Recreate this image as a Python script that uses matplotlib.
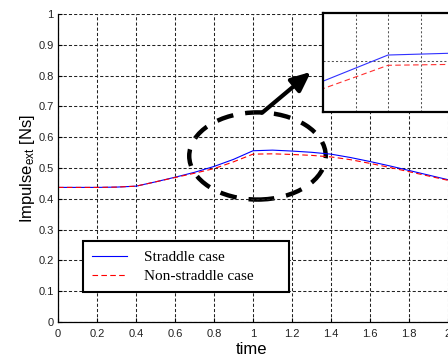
"""
Impulse over time: straddle vs non-straddle case, with zoomed inset
"""
import matplotlib
matplotlib.use("Agg")
import matplotlib.pyplot as plt
from matplotlib.patches import Ellipse

plt.rcParams["font.family"] = ["Liberation Sans", "DejaVu Sans"]
plt.rcParams["mathtext.default"] = "regular"

# data
TIME = [0.0, 0.1, 0.2, 0.3, 0.4, 0.5, 0.6, 0.7, 0.8, 0.9, 1.0,
        1.1, 1.2, 1.3, 1.4, 1.5, 1.6, 1.7, 1.8, 1.9, 2.0]
STRADDLE = [0.437, 0.437, 0.437, 0.438, 0.441, 0.455, 0.470, 0.486, 0.505,
            0.528, 0.556, 0.558, 0.555, 0.551, 0.545, 0.534, 0.521, 0.507,
            0.492, 0.477, 0.462]
NON_STRADDLE = [0.437, 0.437, 0.437, 0.438, 0.441, 0.455, 0.469, 0.483,
                0.498, 0.520, 0.545, 0.546, 0.544, 0.541, 0.536, 0.527,
                0.515, 0.502, 0.488, 0.474, 0.460]
LABELS = ["Straddle case", "Non-straddle case"]
X_TICKS = [0, 0.2, 0.4, 0.6, 0.8, 1, 1.2, 1.4, 1.6, 1.8, 2]
Y_TICKS = [0, 0.1, 0.2, 0.3, 0.4, 0.5, 0.6, 0.7, 0.8, 0.9, 1]
INSET_X = (0.90, 1.30)
INSET_Y = (0.495, 0.601)

W, H = 448, 361
GRID = dict(color="#222222", linestyle=(0, (3, 2)), linewidth=0.75)


def fig_box(left, top, right, bottom):
    """pixel box -> figure fraction [l, b, w, h]"""
    return [left / W, 1 - bottom / H, (right - left) / W, (bottom - top) / H]


fig = plt.figure(figsize=(W / 100, H / 100), dpi=100)
ax = fig.add_axes(fig_box(58, 14, 448, 322))

ax.plot(TIME, STRADDLE, color="#0000ff", linewidth=0.8, label=LABELS[0])
ax.plot(TIME, NON_STRADDLE, color="#ff0000", linewidth=0.8,
        linestyle=(0, (5, 3)), label=LABELS[1])

ax.set_xlim(0, 2)
ax.set_ylim(0, 1)
ax.set_xticks(X_TICKS)
ax.set_xticklabels([f"{t:g}" for t in X_TICKS])
ax.set_yticks(Y_TICKS)
ax.set_yticklabels([f"{t:g}" for t in Y_TICKS])
ax.grid(True, **GRID)
for side in ("top", "right"):
    ax.spines[side].set_visible(False)
for side in ("left", "bottom"):
    ax.spines[side].set_linewidth(0.9)
ax.tick_params(direction="in", length=3, labelsize=8, labelcolor="#222222")
ax.tick_params(axis="x", pad=5)
ax.tick_params(axis="y", pad=3)

ax.set_xlabel("time", fontsize=12)
ax.xaxis.set_label_coords(0.497, -0.065)
ax.set_ylabel("Impulse$_{ext}$ [Ns]", fontsize=12)
ax.yaxis.set_label_coords(-0.055, 0.5)

# dashed ellipse around the peak and arrow to the inset
ax.add_patch(Ellipse((1.023, 0.539), 0.70, 0.283, fill=False, edgecolor="black",
                     linewidth=3.2, linestyle=(0, (3.8, 2.7))))
ax.annotate("", xy=(1.297, 0.812), xytext=(1.046, 0.679),
            arrowprops=dict(arrowstyle="-|>,head_length=0.45,head_width=0.2",
                            color="black", lw=3, mutation_scale=26,
                            shrinkA=0, shrinkB=0))

leg = ax.legend(loc="upper left", bbox_to_anchor=fig_box(83, 241, 289, 295),
                bbox_transform=fig.transFigure, mode="expand", borderaxespad=0,
                fancybox=False, edgecolor="black", framealpha=1,
                prop={"family": "Liberation Serif", "size": 11},
                handlelength=2.3, handletextpad=1.1, labelspacing=0.35,
                borderpad=0.6)
leg.get_frame().set_linewidth(1.5)

# zoomed inset (extends past the right edge, as in the reference)
inset = fig.add_axes(fig_box(323, 13, 583, 112))
inset.plot(TIME, STRADDLE, color="#3030ff", linewidth=0.8)
inset.plot(TIME, NON_STRADDLE, color="#ff3030", linewidth=0.8,
           linestyle=(0, (5, 3)))
inset.set_xlim(*INSET_X)
inset.set_ylim(*INSET_Y)
inset.set_xticks([0.95, 1.0, 1.05, 1.1, 1.15, 1.2, 1.25])
inset.set_yticks([0.55])
inset.grid(True, color="#555555", linestyle=(0, (2, 2)), linewidth=0.75)
inset.tick_params(length=0, labelbottom=False, labelleft=False)
for spine in inset.spines.values():
    spine.set_linewidth(1.6)

fig.savefig("out.png", dpi=100)
